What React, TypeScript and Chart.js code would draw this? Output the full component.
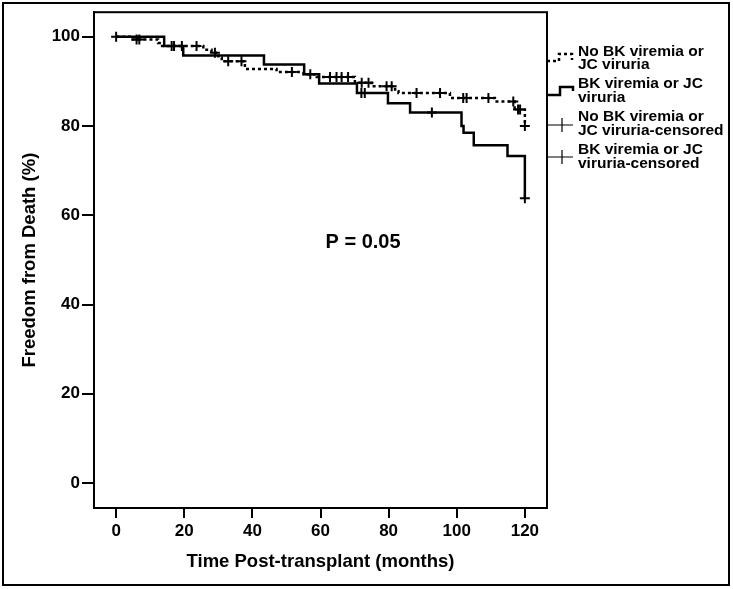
import React, { useEffect, useRef } from "react";
import { Chart, registerables } from "chart.js";

Chart.register(...registerables);

// ---- data ----
const xTicks = [0, 20, 40, 60, 80, 100, 120];
const yTicks = [0, 20, 40, 60, 80, 100];

// No BK viremia or JC viruria (dotted)
const noBkTimes = [0, 4, 12.3, 13.5, 25.6, 28, 30, 31, 37.8, 47.1, 55, 58.9, 70.1, 75, 81.9, 82.9, 98, 111.2, 117, 120];
const noBkSurv = [100, 99.4, 98.6, 97.9, 97.1, 96.4, 95.3, 94.5, 92.8, 92.1, 91.6, 91.0, 89.7, 88.9, 87.8, 87.4, 86.3, 85.5, 83.7, 80.0];

// BK viremia or JC viruria (solid)
const bkTimes = [0, 14.1, 19.7, 43.4, 55.2, 59.6, 70.7, 79.8, 86.3, 101.4, 102, 105, 114.9, 120];
const bkSurv = [100, 97.9, 95.8, 93.8, 91.6, 89.5, 87.4, 85.1, 83.0, 80.0, 78.5, 75.7, 73.3, 63.8];

// censored marks
const noBkCensorTimes = [6, 6.8, 16.3, 17, 19.3, 23.6, 29, 32.9, 36.8, 51.6, 57, 62.8, 64.7, 66.2, 68.1, 72.1, 74.1, 79.4, 80.9, 88.2, 95.1, 101.9, 102.9, 109.3, 116.6, 118, 118.6, 120];
const noBkCensorSurv = [99.4, 99.4, 97.9, 97.9, 97.9, 97.9, 96.4, 94.5, 94.5, 92.1, 91.6, 91.0, 91.0, 91.0, 91.0, 89.7, 89.7, 88.9, 88.9, 87.4, 87.4, 86.3, 86.3, 86.3, 85.5, 83.7, 83.7, 80.0];
const bkCensorTimes = [0, 72, 73, 92.7, 120];
const bkCensorSurv = [100, 87.4, 87.4, 83.0, 63.8];

const legendLabels = [
  ["No BK viremia or", "JC viruria"],
  ["BK viremia or JC", "viruria"],
  ["No BK viremia or", "JC viruria-censored"],
  ["BK viremia or JC", "viruria-censored"],
];
const xTitle = "Time Post-transplant (months)";
const yTitle = "Freedom from Death (%)";
const pValueText = "P = 0.05";

const FONT = "'Liberation Sans', Arial, Helvetica, sans-serif";

const toPts = (xs: number[], ys: number[]) => xs.map((x, i) => ({ x, y: ys[i] }));

const decorPlugin = {
  id: "decor",
  afterDraw(chart: any) {
    const { ctx, chartArea } = chart;
    ctx.save();
    ctx.strokeStyle = "#000";
    ctx.fillStyle = "#000";
    // plot frame
    ctx.lineWidth = 2;
    ctx.strokeRect(chartArea.left, chartArea.top, chartArea.right - chartArea.left, chartArea.bottom - chartArea.top);
    // outer border
    ctx.strokeRect(3, 3, 726, 582);

    // P value
    const xs = chart.scales.x;
    const ys = chart.scales.y;
    ctx.font = `bold 20px ${FONT}`;
    ctx.textAlign = "center";
    ctx.textBaseline = "middle";
    ctx.fillText(pValueText, xs.getPixelForValue(72.5), ys.getPixelForValue(54));

    // legend
    const lx0 = chartArea.right;
    const tx = lx0 + 31;
    ctx.font = `bold 15.5px ${FONT}`;
    ctx.textAlign = "left";
    const rows = [
      [51.5, 65],
      [84, 98],
      [117, 131],
      [150, 164],
    ];
    legendLabels.forEach((lines, i) => {
      lines.forEach((t, j) => ctx.fillText(t, tx, rows[i][j]));
    });
    // item 1: dotted step
    ctx.lineWidth = 2.5;
    ctx.setLineDash([3, 3]);
    ctx.beginPath();
    ctx.moveTo(lx0, 61);
    ctx.lineTo(lx0 + 12, 61);
    ctx.lineTo(lx0 + 12, 54);
    ctx.lineTo(lx0 + 25, 54);
    ctx.lineTo(lx0 + 25, 60);
    ctx.stroke();
    ctx.setLineDash([]);
    // item 2: solid step
    ctx.beginPath();
    ctx.moveTo(lx0, 95);
    ctx.lineTo(lx0 + 13, 95);
    ctx.lineTo(lx0 + 13, 87);
    ctx.lineTo(lx0 + 26, 87);
    ctx.lineTo(lx0 + 26, 91);
    ctx.stroke();
    // items 3, 4: censor crosses
    ctx.lineWidth = 1.2;
    [125, 157].forEach((yy) => {
      ctx.beginPath();
      ctx.moveTo(lx0, yy);
      ctx.lineTo(lx0 + 26, yy);
      ctx.moveTo(lx0 + 15, yy - 7);
      ctx.lineTo(lx0 + 15, yy + 7);
      ctx.stroke();
    });
    ctx.restore();
  },
};

export default function App() {
  const ref = useRef<HTMLCanvasElement | null>(null);

  useEffect(() => {
    document.body.style.margin = "0";
    if (!ref.current) return;
    const chart = new Chart(ref.current, {
      type: "line",
      data: {
        datasets: [
          {
            label: "No BK viremia or JC viruria",
            data: toPts(noBkTimes, noBkSurv),
            borderColor: "#000",
            borderWidth: 2.5,
            borderDash: [3, 3],
            stepped: true,
            pointRadius: 0,
            fill: false,
          },
          {
            label: "BK viremia or JC viruria",
            data: toPts(bkTimes, bkSurv),
            borderColor: "#000",
            borderWidth: 2.5,
            stepped: true,
            pointRadius: 0,
            fill: false,
          },
          {
            label: "No BK viremia or JC viruria-censored",
            data: toPts(noBkCensorTimes, noBkCensorSurv),
            showLine: false,
            pointStyle: "cross",
            pointRadius: 5,
            pointBorderWidth: 2,
            pointBorderColor: "#000",
            borderColor: "#000",
          },
          {
            label: "BK viremia or JC viruria-censored",
            data: toPts(bkCensorTimes, bkCensorSurv),
            showLine: false,
            pointStyle: "cross",
            pointRadius: 5,
            pointBorderWidth: 2,
            pointBorderColor: "#000",
            borderColor: "#000",
          },
        ],
      },
      options: {
        responsive: false,
        animation: false,
        layout: { padding: { left: 0, right: 186, top: 11, bottom: 0 } },
        plugins: { legend: { display: false }, tooltip: { enabled: false } },
        scales: {
          x: {
            type: "linear",
            min: -6.5,
            max: 126.5,
            afterBuildTicks: (s: any) => {
              s.ticks = xTicks.map((v) => ({ value: v }));
            },
            afterFit: (s: any) => {
              s.height = 81;
            },
            grid: { drawOnChartArea: false, drawTicks: true, tickLength: 10, color: "#000", lineWidth: 2 },
            border: { display: true, color: "#000", width: 2 },
            ticks: { color: "#000", padding: 3, font: { family: FONT, size: 17, weight: "bold" } },
            title: {
              display: true,
              text: xTitle,
              color: "#000",
              font: { family: FONT, size: 18.5, weight: "bold" },
              padding: { top: 0, bottom: 16 },
            },
          },
          y: {
            type: "linear",
            min: -5.6,
            max: 105.5,
            afterBuildTicks: (s: any) => {
              s.ticks = yTicks.map((v) => ({ value: v }));
            },
            afterFit: (s: any) => {
              s.width = 94;
            },
            grid: { drawOnChartArea: false, drawTicks: true, tickLength: 12, color: "#000", lineWidth: 2 },
            border: { display: true, color: "#000", width: 2 },
            ticks: { color: "#000", padding: 2, font: { family: FONT, size: 17, weight: "bold" } },
            title: {
              display: true,
              text: yTitle,
              color: "#000",
              font: { family: FONT, size: 18.5, weight: "bold" },
              padding: { top: 19, bottom: 0 },
            },
          },
        },
      },
      plugins: [decorPlugin],
    } as any);
    return () => chart.destroy();
  }, []);

  return (
    <div style={{ width: 733, height: 589, background: "#fff" }}>
      <canvas ref={ref} width={733} height={589} style={{ display: "block" }} />
    </div>
  );
}
